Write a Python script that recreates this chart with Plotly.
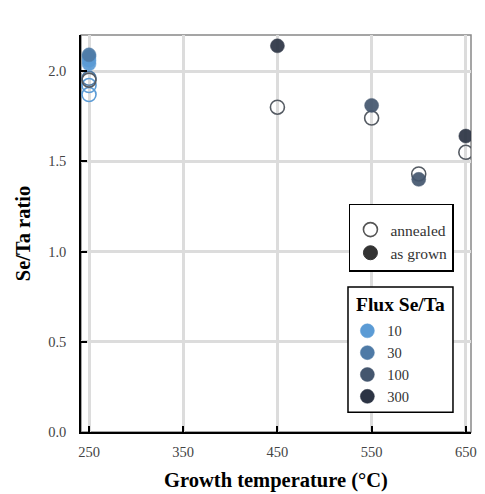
import plotly.graph_objects as go

# ---- data ----
flux_levels = ["10", "30", "100", "300"]
flux_colors = {"10": "#5b9bd5", "30": "#4e7aa6", "100": "#44566e", "300": "#2c3444"}

# as grown (filled)
grown_temp = [250, 250, 250, 250, 450, 550, 600, 650]
grown_ratio = [2.04, 2.06, 2.09, 2.08, 2.14, 1.81, 1.40, 1.64]
grown_flux = ["10", "10", "30", "10", "300", "100", "100", "300"]

# annealed (open)
ann_temp = [250, 250, 250, 250, 450, 550, 600, 650]
ann_ratio = [1.87, 1.92, 1.95, 1.96, 1.80, 1.74, 1.43, 1.55]
ann_flux = ["10", "10", "300", "30", "300", "100", "100", "300"]

x_ticks = [250, 350, 450, 550, 650]
y_ticks = [0.0, 0.5, 1.0, 1.5, 2.0]

FONT = "Liberation Serif"

fig = go.Figure()

# annealed: open circles
for f in flux_levels:
    xs = [t for t, fl in zip(ann_temp, ann_flux) if fl == f]
    ys = [r for r, fl in zip(ann_ratio, ann_flux) if fl == f]
    if not xs:
        continue
    col = flux_colors[f] if f in ("10", "30") else "#555b63"
    fig.add_trace(go.Scatter(
        x=xs, y=ys, mode="markers", showlegend=False,
        marker=dict(size=14, color="rgba(255,255,255,0)",
                    line=dict(color=col, width=1.6)),
    ))

# as grown: filled circles
for f in flux_levels:
    xs = [t for t, fl in zip(grown_temp, grown_flux) if fl == f]
    ys = [r for r, fl in zip(grown_ratio, grown_flux) if fl == f]
    if not xs:
        continue
    fig.add_trace(go.Scatter(
        x=xs, y=ys, mode="markers", showlegend=False,
        marker=dict(size=14, color=flux_colors[f], opacity=0.92,
                    line=dict(color=flux_colors[f], width=0.5)),
    ))

# legend 1: state
fig.add_trace(go.Scatter(
    x=[None], y=[None], mode="markers", name="annealed", legend="legend",
    marker=dict(size=14, color="white", line=dict(color="#555555", width=1.6)),
))
fig.add_trace(go.Scatter(
    x=[None], y=[None], mode="markers", name="as grown", legend="legend",
    marker=dict(size=14, color="#333333", line=dict(color="#333333", width=1)),
))
# legend 2: flux
for f in flux_levels:
    fig.add_trace(go.Scatter(
        x=[None], y=[None], mode="markers", name=f, legend="legend2",
        marker=dict(size=14, color=flux_colors[f], line=dict(color=flux_colors[f], width=0.5)),
    ))

fig.update_layout(
    width=477, height=486,
    margin=dict(l=73, r=14, t=27, b=62, autoexpand=False),
    plot_bgcolor="white", paper_bgcolor="white",
    font=dict(family=FONT, size=14, color="#444444"),
    xaxis=dict(
        range=[241.5, 655.5], tickvals=x_ticks, ticktext=[str(v) for v in x_ticks],
        showgrid=True, gridcolor="#dcdcdc", gridwidth=3,
        showline=True, linecolor="black", linewidth=1.5,
        ticks="inside", ticklen=6, tickwidth=1.5, tickcolor="black",
        zeroline=False, ticklabelstandoff=6,
        tickfont=dict(family=FONT, size=14.5, color="#444444"),
        title=dict(text="<b>Growth temperature (°C)</b>", standoff=13,
                   font=dict(family=FONT, size=20.5, color="black")),
    ),
    yaxis=dict(
        range=[0, 2.2], tickvals=y_ticks, ticktext=[f"{v:.1f}" for v in y_ticks],
        showgrid=True, gridcolor="#dcdcdc", gridwidth=3,
        showline=True, linecolor="black", linewidth=1.5,
        ticks="inside", ticklen=6, tickwidth=1.5, tickcolor="black",
        zeroline=False, ticklabelstandoff=10,
        tickfont=dict(family=FONT, size=14.5, color="#444444"),
        title=dict(text="<b>Se/Ta ratio</b>", standoff=12,
                   font=dict(family=FONT, size=20.5, color="black")),
    ),
    legend=dict(
        x=0.687, y=0.575, xanchor="left", yanchor="top",
        bgcolor="white", bordercolor="black", borderwidth=1.5,
        font=dict(family=FONT, size=15.5, color="#333333"),
        title=dict(text=" ", font=dict(family=FONT, size=6)),
        tracegroupgap=0,
    ),
    legend2=dict(
        x=0.683, y=0.295, xanchor="left", yanchor="top",
        bgcolor="rgba(0,0,0,0)", borderwidth=0,
        font=dict(family=FONT, size=14.5, color="#333333"),
        tracegroupgap=0,
    ),
    shapes=[
        dict(type="rect", xref="paper", yref="paper", x0=0, y0=0, x1=1, y1=1,
             line=dict(color="#888888", width=1.5), layer="below"),
        dict(type="rect", xref="paper", yref="paper", x0=0.6846, y0=0.050, x1=0.9538, y1=0.3652,
             line=dict(color="black", width=1.5), fillcolor="white", layer="above"),
    ],
    annotations=[
        dict(text="<b>Flux Se/Ta</b>", xref="paper", yref="paper", x=0.818, y=0.322,
             xanchor="center", yanchor="middle", showarrow=False,
             font=dict(family=FONT, size=19.5, color="black")),
    ],
)

fig.write_html("out.html")
